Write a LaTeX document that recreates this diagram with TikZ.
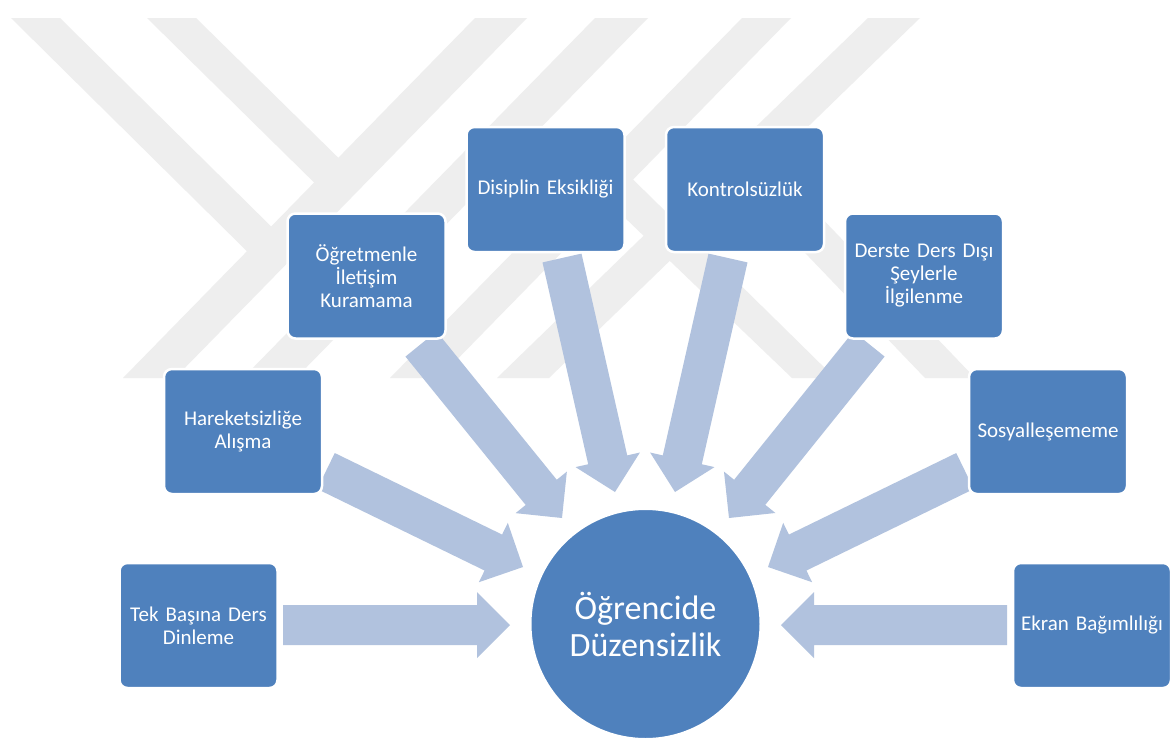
\documentclass[tikz,border=0pt]{standalone}
\usepackage{fontspec}
\setmainfont{Carlito}
\usetikzlibrary{calc}
\definecolor{boxblue}{HTML}{4F81BD}
\definecolor{arrowblue}{HTML}{B1C2DE}
\definecolor{wmgray}{HTML}{EEEEEE}
\tikzset{
  itembox/.style={rectangle, rounded corners=8pt, fill=boxblue, draw=white, line width=2.5pt,
    minimum width=158pt, minimum height=125pt, text width=154pt, align=center,
    text=white, font=\fontsize{21}{23}\selectfont, inner sep=2pt},
  centre/.style={circle, fill=boxblue, draw=white, line width=2pt, minimum size=230pt,
    text=white, align=center, font=\fontsize{34}{37}\selectfont, inner sep=0pt},
  arrowfill/.style={fill=arrowblue},
  wm/.style={fill=wmgray}
}
\newcommand{\blockarrow}[3]{%
  \coordinate (#3) at ($(#2)!33pt!(#1)$);
  \fill[arrowfill] ($(#1)!20pt!90:(#2)$) -- ($(#3)!20pt!90:(#2)$) -- ($(#3)!33pt!90:(#2)$)
    -- (#2) -- ($(#3)!33pt!-90:(#2)$) -- ($(#3)!20pt!-90:(#2)$) -- ($(#1)!20pt!-90:(#2)$) -- cycle;
}
\begin{document}
\begin{tikzpicture}[x=1pt,y=-1pt]
\useasboundingbox (0,0) rectangle (1176,745);
\fill[white] (0,0) rectangle (1176,745);

% watermark (light grey logo)
\fill[wm] (11,18) -- (60,18) -- (297,252) -- (273,277) -- cycle;
\fill[wm] (147,18) -- (196,18) -- (364,183) -- (340,208) -- cycle;
\fill[wm] (475,18) -- (527,18) -- (175,378) -- (123,378) -- cycle;
\fill[wm] (595,18) -- (648,18) -- (296,378) -- (243,378) -- cycle;
\fill[wm] (742,18) -- (791,18) -- (439,378) -- (390,378) -- cycle;
\fill[wm] (868,18) -- (920,18) -- (549,378) -- (497,378) -- cycle;
\fill[wm] (574,169) -- (600,147) -- (835,378) -- (792,378) -- cycle;
\fill[wm] (716,160) -- (742,135) -- (975,378) -- (925,378) -- cycle;

% arrow end points
\coordinate (s1) at (283,625);  \coordinate (t1) at (510,625);
\coordinate (s2) at (326,471);  \coordinate (t2) at (523,567);
\coordinate (s3) at (421,344);  \coordinate (t3) at (562,518);
\coordinate (s4) at (562,258);  \coordinate (t4) at (615,492);
\coordinate (s5) at (728,258);  \coordinate (t5) at (675,492);
\coordinate (s6) at (869,344);  \coordinate (t6) at (729,518);
\coordinate (s7) at (965,471);  \coordinate (t7) at (768,567);
\coordinate (s8) at (1007,625); \coordinate (t8) at (781,625);

\blockarrow{s1}{t1}{h1}
\blockarrow{s2}{t2}{h2}
\blockarrow{s3}{t3}{h3}
\blockarrow{s4}{t4}{h4}
\blockarrow{s5}{t5}{h5}
\blockarrow{s6}{t6}{h6}
\blockarrow{s7}{t7}{h7}
\blockarrow{s8}{t8}{h8}

\node[itembox] (b1) at (198.5,625.5) {Tek Başına Ders\\Dinleme};
\node[itembox] (b2) at (243,431.5) {Hareketsizliğe\\Alışma};
\node[itembox] (b3) at (366.5,276) {Öğretmenle\\İletişim\\Kuramama};
\node[itembox] (b4) at (545.5,189.5) {Disiplin Eksikliği};
\node[itembox] (b5) at (745,189.5) {Kontrolsüzlük};
\node[itembox] (b6) at (924,276) {Derste Ders Dışı\\Şeylerle\\İlgilenme};
\node[itembox] (b7) at (1048,431.5) {Sosyalleşememe};
\node[itembox] (b8) at (1092,625.5) {Ekran Bağımlılığı};

\node[centre] (c) at (645.5,624) {Öğrencide\\Düzensizlik};
\end{tikzpicture}
\end{document}
